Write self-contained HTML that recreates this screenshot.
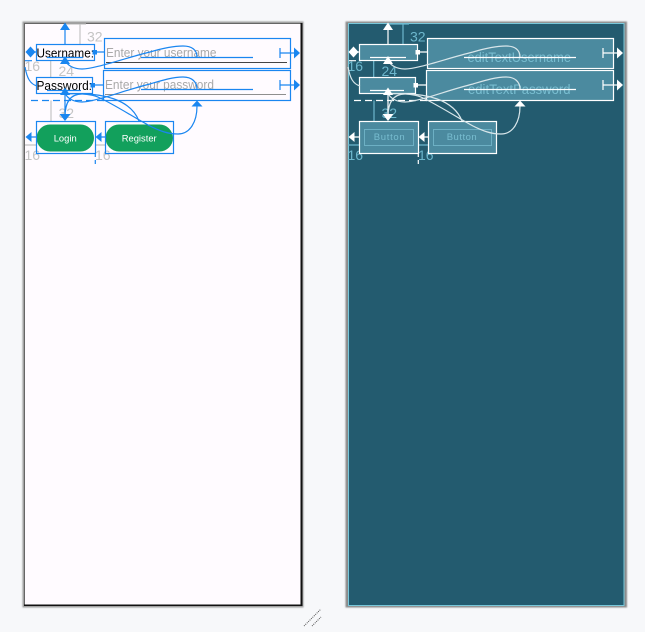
<!DOCTYPE html>
<html>
<head>
<meta charset="utf-8">
<style>
html,body{margin:0;padding:0;background:#f7f8fa;width:645px;height:632px;overflow:hidden}
svg{display:block}
text{font-family:"Liberation Sans",sans-serif}
</style>
</head>
<body>
<svg width="645" height="632" viewBox="0 0 645 632" xmlns="http://www.w3.org/2000/svg">
<defs>
<filter id="s" x="-2%" y="-2%" width="104%" height="104%"><feGaussianBlur stdDeviation="0.7"/></filter>
</defs>
<rect width="645" height="632" fill="#f7f8fa"/>

<!-- LEFT PANEL -->
<rect x="22.5" y="21.5" width="281" height="586" fill="#9a9a9a" filter="url(#s)"/>
<rect x="24" y="23" width="278" height="583" fill="#666"/>
<path d="M300.5 23H302.5V606H24V604.5H300.5Z" fill="#111"/>
<rect x="25" y="24" width="275.5" height="580.5" fill="#fffbff"/>

<!-- grey constraints -->
<g stroke="#c4c4c4" stroke-width="1.2" fill="none">
<path d="M66 24H86M80 24V44M50.7 61V77M51 100.5V121M25 145H36M96 145H105"/>
</g>
<g fill="#c4c4c4" font-size="14">
<text x="87" y="41.5">32</text>
<text x="24.5" y="71">16</text>
<text x="58.5" y="76">24</text>
<text x="58.5" y="118">32</text>
<text x="24.5" y="160">16</text>
<text x="95" y="160">16</text>
</g>

<!-- buttons -->
<rect x="36.5" y="124.5" width="57.5" height="27" rx="13.5" fill="#12a05c"/>
<rect x="105.5" y="124.5" width="67.5" height="27" rx="13.5" fill="#12a05c"/>
<text x="53.7" y="141.5" font-size="9.5" fill="#fff" textLength="23" lengthAdjust="spacingAndGlyphs">Login</text>
<text x="121.7" y="141.5" font-size="9.5" fill="#fff" textLength="35" lengthAdjust="spacingAndGlyphs">Register</text>

<!-- texts -->
<text x="36.5" y="57.5" font-size="13" fill="#000" textLength="57.5" lengthAdjust="spacingAndGlyphs">Username:</text>
<text x="36.5" y="90" font-size="13" fill="#000" textLength="55.5" lengthAdjust="spacingAndGlyphs">Password:</text>
<text x="106" y="57" font-size="13" fill="#a9a9a9" textLength="110.5" lengthAdjust="spacingAndGlyphs">Enter your username</text>
<text x="105" y="89" font-size="13" fill="#a9a9a9" textLength="109" lengthAdjust="spacingAndGlyphs">Enter your password</text>
<path d="M106 62.5H287" stroke="#454545" stroke-width="1"/>
<path d="M105 94.5H286" stroke="#8f8f8f" stroke-width="1"/>

<!-- blue layer -->
<g stroke="#1a86f0" fill="none" stroke-width="1.2">
<rect x="36.5" y="44.5" width="58" height="16"/>
<rect x="36.5" y="77.5" width="56" height="16"/>
<rect x="36.5" y="121.5" width="59" height="32"/>
<rect x="105.5" y="121.5" width="68" height="32"/>
<rect x="104.5" y="38.5" width="186" height="30"/>
<rect x="103.5" y="70.5" width="187" height="30"/>
<path d="M141 57.5H253M141 89.5H253M47 57.5H83M47 90.5H81"/>
<path d="M65 44V28M36 52H30M36 137H31M105 137H100M95 52H104M93 85H103M65 93V118"/>
<path d="M280 53H295M280 85H295M280 48V58M280 80V90"/>
<path d="M25 60.7H36M31 100.5H104" stroke-dasharray="7 4"/>
<path d="M95.3 153V166" stroke-dasharray="4 3"/>
<path d="M25 67C27 78 30 84 37 86"/>
<path d="M65 60C67 65 73 69 82 69C95 69 125 58 150 52C160 49 172 46 183 46C192 46 197 50 197 57"/>
<path d="M65 93C67 98 73 102 82 102C95 102 125 90 150 84C160 81 172 77 183 77C192 77 197 82 197 89"/>
<path d="M65 117C65 103 70 94 82 94C100 94 130 98 139 121"/>
<path d="M65 94C80 93 92 94 100 98C115 105 135 118 150 126C160 131 168 134 178 134C190 134 197 122 197 106"/>
</g>
<g fill="#1a86f0">
<path d="M65 22.5L70 30H60Z"/>
<path d="M25.5 52L30.5 46.5L35.5 52L30.5 57.5Z"/>
<path d="M25.5 137L31.5 132V142Z"/>
<path d="M95.5 137L101.5 132V142Z"/>
<path d="M65 56L70 64H60Z"/>
<path d="M65 87.5L70 95H60Z"/>
<path d="M65 121L59.5 114H70.5Z"/>
<path d="M197 100.5L202.5 106.5H191.5Z"/>
<path d="M300 53L294 47.5V58.5Z"/>
<path d="M300 85L294 79.5V90.5Z"/>
<rect x="92.5" y="50" width="4.5" height="4.5"/>
<rect x="90.5" y="83" width="4.5" height="4.5"/>
</g>

<!-- RIGHT PANEL -->
<rect x="345.5" y="21.5" width="281.5" height="586" fill="#8a8a8a" filter="url(#s)"/>
<rect x="348" y="23" width="276.5" height="583" fill="#235b6f"/>
<rect x="348.5" y="23.5" width="275.5" height="582" fill="none" stroke="#78c8da" stroke-width="1"/>

<g stroke="#6db7cd" stroke-width="1.2" fill="none">
<path d="M389 24H409M403 24V44M373.7 61V77M374 100.5V121M348 145H359M419 145H428"/>
</g>
<g fill="#6db7cd" font-size="14">
<text x="410" y="41.5">32</text>
<text x="347.5" y="71">16</text>
<text x="381.5" y="76">24</text>
<text x="381.5" y="118">32</text>
<text x="347.5" y="160">16</text>
<text x="418" y="160">16</text>
</g>

<g fill="#4b8a9f" stroke="#ffffff" stroke-width="1.2">
<rect x="359.5" y="44.5" width="58" height="16"/>
<rect x="359.5" y="77.5" width="56" height="16"/>
<rect x="359.5" y="121.5" width="59" height="32"/>
<rect x="428.5" y="121.5" width="68" height="32"/>
<rect x="427.5" y="38.5" width="186" height="30"/>
<rect x="426.5" y="70.5" width="187" height="30"/>
</g>
<g fill="none" stroke="#6db0c4" stroke-width="1">
<rect x="364.5" y="129.5" width="49" height="16"/>
<rect x="433.5" y="129.5" width="58" height="16"/>
</g>
<g fill="#78bdd0" font-size="9.5">
<text x="373.7" y="140" textLength="31" lengthAdjust="spacing">Button</text>
<text x="446.7" y="140" textLength="30" lengthAdjust="spacing">Button</text>
</g>
<g fill="#78bdd0" font-size="13.5">
<text x="467.5" y="62" textLength="103.5" lengthAdjust="spacingAndGlyphs">editTextUsername</text>
<text x="468" y="94" textLength="102.5" lengthAdjust="spacingAndGlyphs">editTextPassword</text>
</g>

<g stroke="#ffffff" fill="none" stroke-width="1.2">
<path d="M464 57.5H576M464 89.5H576M370 57.5H406M370 90.5H404"/>
<path d="M388 44V28M359 52H353M359 137H354M428 137H423M418 52H427M416 85H426M388 93V118"/>
<path d="M603 53H618M603 85H618M603 48V58M603 80V90"/>
<path d="M349 60.7H359M354 100.5H427" stroke-dasharray="7 4"/>
<path d="M418.3 153V166" stroke-dasharray="4 3"/>
</g>
<g stroke="#d8e6ea" fill="none" stroke-width="1.2">
<path d="M348 67C350 78 353 84 360 86"/>
<path d="M388 60C390 65 396 69 405 69C418 69 448 58 473 52C483 49 495 46 506 46C515 46 520 50 520 57"/>
<path d="M388 93C390 98 396 102 405 102C418 102 448 90 473 84C483 81 495 77 506 77C515 77 520 82 520 89"/>
<path d="M388 117C388 103 393 94 405 94C423 94 453 98 462 121"/>
<path d="M388 94C403 93 415 94 423 98C438 105 458 118 473 126C483 131 491 134 501 134C513 134 520 122 520 106"/>
</g>
<g fill="#ffffff">
<path d="M388 22.5L393 30H383Z"/>
<path d="M348.5 52L353.5 46.5L358.5 52L353.5 57.5Z"/>
<path d="M348.5 137L354.5 132V142Z"/>
<path d="M418.5 137L424.5 132V142Z"/>
<path d="M388 56L393 64H383Z"/>
<path d="M388 87.5L393 95H383Z"/>
<path d="M388 121L382.5 114H393.5Z"/>
<path d="M520 100.5L525.5 106.5H514.5Z"/>
<path d="M623 53L617 47.5V58.5Z"/>
<path d="M623 85L617 79.5V90.5Z"/>
<rect x="415.5" y="50" width="4.5" height="4.5"/>
<rect x="413.5" y="83" width="4.5" height="4.5"/>
</g>

<!-- resize handle -->
<g stroke="#555" stroke-width="1" stroke-dasharray="1 1" fill="none">
<path d="M304 626L321 609M312 626L321 617"/>
</g>
</svg>
</body>
</html>
